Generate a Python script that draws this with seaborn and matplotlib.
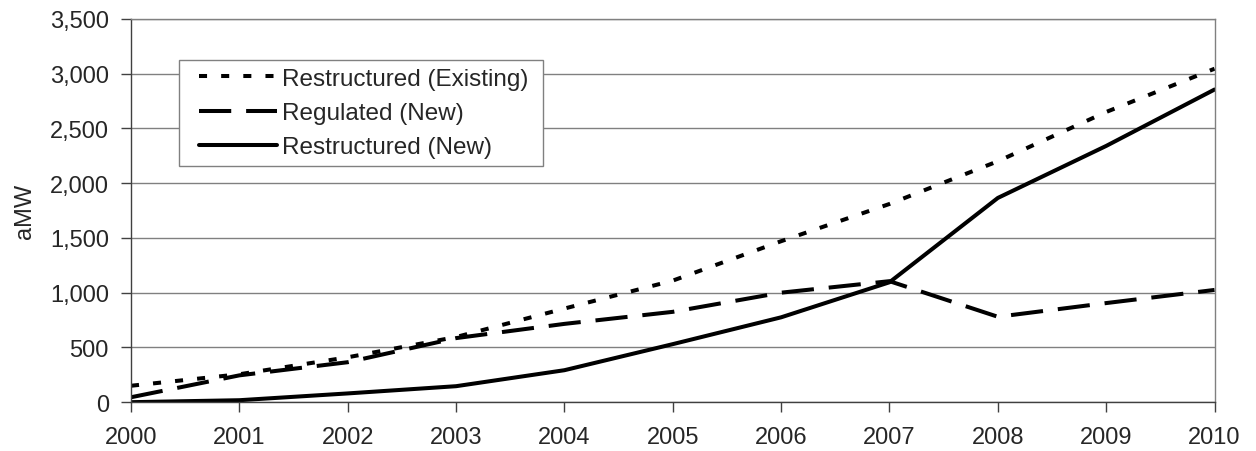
import numpy as np
import pandas as pd
import seaborn as sns
import matplotlib.pyplot as plt
from matplotlib.patches import Rectangle
from matplotlib.ticker import FuncFormatter

years = list(range(2000, 2011))
restructured_existing = [150, 255, 410, 595, 855, 1110, 1470, 1810, 2200, 2650, 3045]
regulated_new = [45, 245, 365, 585, 715, 825, 1000, 1105, 780, 905, 1025]
restructured_new = [0, 18, 80, 146, 292, 530, 775, 1095, 1865, 2340, 2855]
series_names = ["Restructured (Existing)", "Regulated (New)", "Restructured (New)"]

df = pd.DataFrame({
    "year": years * 3,
    "aMW": restructured_existing + regulated_new + restructured_new,
    "series": np.repeat(series_names, len(years)),
})

sns.set_style("white")
plt.rcParams["font.family"] = ["Liberation Sans", "DejaVu Sans"]

fig = plt.figure(figsize=(12.56, 4.52), dpi=100)
ax = fig.add_axes([0.1043, 0.108, 0.8627, 0.848])

dashes = {
    "Restructured (Existing)": (2.0, 3.5),
    "Regulated (New)": (8.0, 3.7),
    "Restructured (New)": "",
}
sns.lineplot(data=df, x="year", y="aMW", hue="series", style="series",
             palette=["black"] * 3, dashes=dashes, linewidth=2.9, ax=ax,
             legend=True)

ax.set_xlim(2000, 2010)
ax.set_ylim(0, 3500)
ax.set_xticks(years)
ax.set_yticks(range(0, 3501, 500))
ax.yaxis.set_major_formatter(FuncFormatter(lambda v, p: f"{int(v):,}"))
ax.grid(axis="y", color="#808080", linewidth=1)
ax.set_axisbelow(True)
for s in ax.spines.values():
    s.set_color("#808080")
    s.set_linewidth(1)
ax.spines["left"].set_color("#404040")
ax.spines["bottom"].set_color("#404040")
ax.tick_params(axis="both", labelsize=17, length=7, width=1, color="#404040",
               direction="out", left=True, bottom=True)
ax.tick_params(axis="x", pad=10)
ax.tick_params(axis="y", pad=9)
ax.set_xlabel("")
ax.set_ylabel("aMW", fontsize=17, labelpad=10)

# legend frame drawn separately so the handles can sit further in
ax.add_patch(Rectangle((0.0443, 0.616), 0.3358, 0.2768, transform=ax.transAxes,
                       facecolor="white", edgecolor="#808080", linewidth=1,
                       zorder=4))
handles, labels = ax.get_legend_handles_labels()
leg = ax.legend(handles, labels, loc="upper left", bbox_to_anchor=(0.0627, 0.872),
                borderaxespad=0, fontsize=17.5, frameon=False, handlelength=3.2,
                handletextpad=0.2, labelspacing=0.5, borderpad=0)
leg.set_zorder(5)

fig.savefig("out.png", dpi=100)
